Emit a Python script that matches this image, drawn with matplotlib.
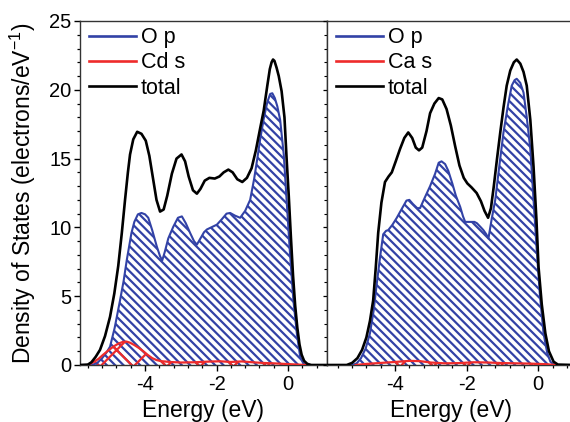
import matplotlib
matplotlib.use("Agg")
import matplotlib.pyplot as plt
from matplotlib.ticker import MultipleLocator
from matplotlib.lines import Line2D

plt.rcParams['font.family'] = ['Liberation Sans', 'DejaVu Sans']
plt.rcParams['mathtext.fontset'] = 'custom'
plt.rcParams['mathtext.rm'] = 'Liberation Sans'
plt.rcParams['mathtext.it'] = 'Liberation Sans'
plt.rcParams['axes.unicode_minus'] = False
plt.rcParams['hatch.linewidth'] = 1.6
plt.rcParams['lines.solid_joinstyle'] = 'round'

# ---------------- data: left panel (CdO) ----------------
left_total_E = [-5.82, -5.6, -5.5, -5.38, -5.26, -5.12, -4.98, -4.86, -4.75, -4.65, -4.56, -4.48,
                -4.42, -4.33, -4.22, -4.1, -3.98, -3.88, -3.78, -3.68, -3.58, -3.48, -3.38, -3.25,
                -3.12, -2.98, -2.88, -2.78, -2.66, -2.55, -2.45, -2.33, -2.2, -2.05, -1.92, -1.8,
                -1.67, -1.55, -1.42, -1.28, -1.15, -1.02, -0.9, -0.78, -0.68, -0.58, -0.51, -0.46,
                -0.42, -0.38, -0.32, -0.26, -0.18, -0.1, -0.04, 0.02, 0.08, 0.14, 0.2, 0.26, 0.32,
                0.38, 0.45, 0.54, 0.65, 1.09]
left_total = [0.0, 0.03, 0.2, 0.6, 1.1, 2.1, 3.5, 5.2, 7.2, 9.6, 12.0, 14.0,
              15.3, 16.4, 16.95, 16.8, 16.3, 15.2, 13.6, 12.0, 11.15, 11.3, 12.3, 13.9,
              15.0, 15.3, 14.8, 13.7, 12.7, 12.45, 12.8, 13.4, 13.6, 13.55, 13.7, 14.0,
              14.2, 14.0, 13.5, 13.3, 13.6, 14.3, 15.6, 17.2, 18.5, 20.3, 21.5, 22.0,
              22.2, 22.1, 21.6, 21.0, 19.9, 18.0, 15.0, 12.3, 9.3, 6.5, 4.3, 2.7, 1.5,
              0.75, 0.3, 0.08, 0.0, 0.0]

left_op_E = [-5.82, -5.5, -5.35, -5.2, -5.08, -4.98, -4.85, -4.7, -4.6, -4.51, -4.44, -4.38,
             -4.3, -4.2, -4.1, -4.0, -3.91, -3.8, -3.67, -3.58, -3.52, -3.45, -3.35, -3.21,
             -3.08, -2.97, -2.86, -2.74, -2.63, -2.55, -2.45, -2.35, -2.27, -2.15, -1.99,
             -1.85, -1.72, -1.62, -1.48, -1.34, -1.2, -1.06, -0.95, -0.86, -0.78, -0.68,
             -0.58, -0.5, -0.44, -0.37, -0.3, -0.22, -0.12, -0.04, 0.05, 0.15, 0.25, 0.34,
             0.43, 0.5]
left_op = [0.0, 0.0, 0.12, 0.5, 0.9, 1.33, 2.7, 4.7, 6.1, 7.65, 8.7, 9.6,
           10.4, 10.95, 11.05, 10.95, 10.7, 9.8, 8.6, 7.9, 7.6, 8.2, 9.2, 10.05,
           10.7, 10.8, 10.3, 9.6, 9.0, 8.75, 9.2, 9.65, 9.85, 10.0, 10.2,
           10.6, 11.0, 11.05, 10.85, 10.7, 11.2, 12.0, 13.5, 15.0, 16.4, 17.9,
           19.1, 19.7, 19.75, 19.4, 18.8, 17.8, 15.3, 12.0, 8.3, 4.7, 2.2, 0.6,
           0.1, 0.0]

left_cds_E = [-5.6, -5.45, -5.3, -5.17, -5.03, -4.89, -4.75, -4.62, -4.52, -4.42, -4.3, -4.18,
              -4.05, -3.92, -3.8, -3.68, -3.55, -3.3, -3.0, -2.6, -2.2, -1.9, -1.6, -1.3,
              -1.0, -0.7, -0.4, -0.1, 0.2, 0.5]
left_cds = [0.0, 0.2, 0.45, 0.75, 1.05, 1.33, 1.55, 1.68, 1.7, 1.62, 1.45, 1.25,
            1.0, 0.72, 0.5, 0.36, 0.28, 0.22, 0.18, 0.2, 0.25, 0.27, 0.22, 0.26,
            0.2, 0.15, 0.12, 0.08, 0.04, 0.0]

# ---------------- data: right panel (CaO) ----------------
right_total_E = [-5.9, -5.35, -5.2, -5.05, -4.92, -4.8, -4.7, -4.61, -4.54, -4.47, -4.38, -4.28,
                 -4.18, -4.09, -3.98, -3.86, -3.74, -3.63, -3.52, -3.42, -3.33, -3.24, -3.12,
                 -3.02, -2.9, -2.78, -2.68, -2.56, -2.44, -2.32, -2.2, -2.08, -1.98, -1.86,
                 -1.72, -1.6, -1.5, -1.4, -1.32, -1.24, -1.15, -1.06, -0.97, -0.88, -0.78,
                 -0.68, -0.6, -0.5, -0.41, -0.32, -0.22, -0.13, -0.05, 0.01, 0.1, 0.2, 0.3,
                 0.43, 0.55, 1.0]
right_total = [0.0, 0.0, 0.15, 0.5, 1.1, 2.0, 3.2, 4.7, 7.0, 9.6, 11.8, 13.3,
               13.7, 14.0, 14.8, 15.7, 16.5, 16.9, 16.5, 15.8, 15.6, 15.8, 17.0,
               18.3, 19.0, 19.4, 19.3, 18.6, 17.4, 15.9, 14.5, 13.6, 13.2, 12.9,
               12.5, 11.9, 11.2, 10.7, 11.4, 13.0, 15.0, 16.9, 18.7, 20.3, 21.4,
               22.0, 22.2, 21.9, 21.3, 20.3, 17.8, 14.4, 10.6, 7.1, 4.4, 2.3, 1.0,
               0.24, 0.03, 0.0]

right_op_E = [-5.2, -5.07, -4.95, -4.82, -4.7, -4.6, -4.51, -4.42, -4.33, -4.25, -4.19, -4.07,
              -3.95, -3.8, -3.68, -3.6, -3.5, -3.38, -3.3, -3.18, -3.02, -2.88, -2.78, -2.7,
              -2.6, -2.51, -2.4, -2.3, -2.18, -2.1, -2.04, -1.9, -1.78, -1.71, -1.6, -1.53,
              -1.45, -1.39, -1.3, -1.2, -1.08, -0.97, -0.85, -0.74, -0.66, -0.6, -0.5, -0.41,
              -0.32, -0.22, -0.13, -0.04, 0.05, 0.15, 0.25, 0.34, 0.45]
right_op = [0.0, 0.12, 0.5, 1.2, 2.3, 3.9, 5.9, 7.8, 9.5, 9.75, 9.8, 10.2,
            10.7, 11.4, 11.95, 12.0, 11.7, 11.4, 11.4, 12.1, 13.0, 13.9, 14.7, 14.8,
            14.6, 14.1, 13.2, 12.3, 11.5, 10.8, 10.4, 10.4, 10.4, 10.3, 10.0, 9.8,
            9.5, 9.2, 10.6, 12.0, 14.6, 16.9, 18.8, 20.3, 20.7, 20.8, 20.5, 19.8,
            18.0, 15.7, 12.0, 8.3, 5.0, 2.3, 0.9, 0.24, 0.0]

right_cas_E = [-5.1, -4.8, -4.4, -4.0, -3.6, -3.3, -3.0, -2.6, -2.2, -1.8, -1.4, -1.0,
               -0.6, -0.2, 0.2, 0.5]
right_cas = [0.0, 0.08, 0.15, 0.22, 0.3, 0.28, 0.18, 0.12, 0.14, 0.2, 0.18, 0.14,
             0.12, 0.1, 0.06, 0.0]

panels = [
    dict(total=(left_total_E, left_total), op=(left_op_E, left_op), cat=(left_cds_E, left_cds),
         cat_label='Cd s', xlim=(-5.82, 1.09)),
    dict(total=(right_total_E, right_total), op=(right_op_E, right_op), cat=(right_cas_E, right_cas),
         cat_label='Ca s', xlim=(-5.9, 1.0)),
]
y_ticks = [0, 5, 10, 15, 20, 25]
x_ticks = [-4, -2, 0]

BLUE = '#3242a6'
RED = '#ee2b2b'
BLACK = '#000000'
FS_TICK = 14.5
FS_LABEL = 16.5
FS_LEG = 15.5

fig = plt.figure(figsize=(5.7, 4.22), dpi=100)
axL = fig.add_axes([80 / 570, 1 - 365 / 422, 247 / 570, 344 / 422])
axR = fig.add_axes([327 / 570, 1 - 365 / 422, 247 / 570, 344 / 422])

for ax, p in zip([axL, axR], panels):
    E, v = p['op']
    ax.fill_between(E, v, 0, facecolor='none', edgecolor=BLUE, hatch='\\\\\\\\', linewidth=0, zorder=1)
    ax.plot(E, v, color=BLUE, lw=1.5, zorder=3)
    E, v = p['cat']
    ax.fill_between(E, v, 0, facecolor='none', edgecolor=RED, hatch='x', linewidth=0, zorder=2)
    ax.plot(E, v, color=RED, lw=1.6, zorder=4)
    E, v = p['total']
    ax.plot(E, v, color=BLACK, lw=1.9, zorder=5)
    ax.set_xlim(*p['xlim'])
    ax.set_ylim(0, 25)
    ax.set_xticks(x_ticks)
    ax.xaxis.set_minor_locator(MultipleLocator(0.4))
    ax.set_xlabel('Energy (eV)', fontsize=FS_LABEL)
    ax.xaxis.set_label_coords(0.5, -0.1)
    ax.tick_params(axis='x', which='major', direction='out', length=4.5, width=1.0,
                   labelsize=FS_TICK, pad=3.0, top=False)
    ax.tick_params(axis='x', which='minor', direction='out', length=2.5, width=0.9, top=False)
    for s in ax.spines.values():
        s.set_linewidth(1.0)
        s.set_color('#333333')
    handles = [Line2D([], [], color=BLUE, lw=1.9),
               Line2D([], [], color=RED, lw=1.9),
               Line2D([], [], color=BLACK, lw=1.9)]
    ax.legend(handles, ['O p', p['cat_label'], 'total'], loc='upper left',
              bbox_to_anchor=(0.036, 0.982), frameon=False, borderaxespad=0, borderpad=0,
              handlelength=2.2, handletextpad=0.2, labelspacing=0.2, fontsize=FS_LEG)

axL.set_yticks(y_ticks)
axL.yaxis.set_minor_locator(MultipleLocator(1))
axL.tick_params(axis='y', which='major', direction='out', length=4.5, width=1.0,
                labelsize=FS_TICK, pad=1.5, left=True, right=False)
axL.tick_params(axis='y', which='minor', direction='out', length=2.5, width=0.9, left=True, right=False)
axL.set_ylabel(r'Density of States (electrons/eV$^{-1}$)', fontsize=FS_LABEL)
axL.yaxis.set_label_coords(-0.17, 0.5)

# ticks along the shared spine (pointing left)
axR.set_yticks(y_ticks)
axR.yaxis.set_minor_locator(MultipleLocator(1))
axR.tick_params(axis='y', which='major', direction='out', length=3, width=0.9,
                left=True, right=False, labelleft=False)
axR.tick_params(axis='y', which='minor', direction='out', length=2, width=0.8,
                left=True, right=False, labelleft=False)

fig.savefig('out.png', dpi=100)
